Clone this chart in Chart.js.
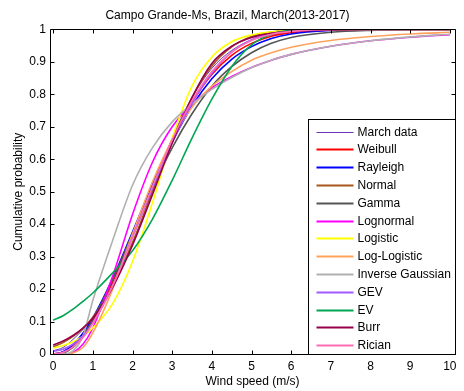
<!DOCTYPE html>
<html>
<head>
<meta charset="utf-8">
<script src="https://cdn.jsdelivr.net/npm/chart.js@4/dist/chart.umd.min.js"></script>
<style>
  html, body { margin: 0; padding: 0; background: #fff; }
</style>
</head>
<body>
<canvas id="myChart" width="464" height="391"></canvas>
<script>
// wind speed grid (m/s) shared by every curve
const windSpeed = [0, 0.25, 0.5, 0.75, 1, 1.5, 2, 2.5, 3, 3.5, 4, 4.5, 5, 5.5, 6, 7, 8, 9, 10];

const marchData       = [0.01, 0.02, 0.045, 0.075, 0.11, 0.22, 0.36, 0.51, 0.665, 0.79, 0.88, 0.935, 0.967, 0.983, 0.992, 0.998, 1, 1, 1];
const weibull         = [0, 0.006, 0.025, 0.057, 0.101, 0.222, 0.369, 0.521, 0.66, 0.775, 0.861, 0.92, 0.957, 0.979, 0.99, 0.998, 1, 1, 1];
const rayleigh        = [0, 0.007, 0.029, 0.064, 0.111, 0.233, 0.376, 0.521, 0.653, 0.764, 0.848, 0.908, 0.947, 0.972, 0.986, 0.997, 1, 1, 1];
const normal          = [0.022, 0.035, 0.054, 0.079, 0.113, 0.21, 0.343, 0.5, 0.657, 0.79, 0.887, 0.946, 0.978, 0.992, 0.998, 1, 1, 1, 1];
const gamma           = [0, 0.003, 0.02, 0.055, 0.105, 0.23, 0.37, 0.51, 0.635, 0.74, 0.825, 0.885, 0.928, 0.957, 0.975, 0.991, 0.997, 0.999, 1];
const lognormal       = [0, 0, 0.005, 0.03, 0.08, 0.24, 0.43, 0.59, 0.7, 0.77, 0.82, 0.855, 0.883, 0.905, 0.923, 0.948, 0.965, 0.976, 0.984];
const logistic        = [0.018, 0.026, 0.037, 0.055, 0.08, 0.155, 0.285, 0.465, 0.665, 0.825, 0.915, 0.962, 0.983, 0.993, 0.997, 1, 1, 1, 1];
const logLogistic     = [0, 0, 0.003, 0.02, 0.065, 0.2, 0.37, 0.53, 0.66, 0.76, 0.825, 0.87, 0.905, 0.928, 0.945, 0.966, 0.978, 0.986, 0.991];
const inverseGaussian = [0, 0, 0.01, 0.055, 0.165, 0.35, 0.52, 0.635, 0.715, 0.77, 0.815, 0.852, 0.882, 0.905, 0.923, 0.948, 0.965, 0.977, 0.985];
const gev             = [0.008, 0.015, 0.03, 0.055, 0.095, 0.21, 0.36, 0.51, 0.65, 0.772, 0.865, 0.93, 0.968, 0.987, 0.996, 1, 1, 1, 1];
const ev              = [0.104, 0.118, 0.138, 0.162, 0.188, 0.25, 0.318, 0.415, 0.535, 0.665, 0.785, 0.885, 0.952, 0.985, 0.997, 1, 1, 1, 1];
const burr            = [0.028, 0.04, 0.057, 0.08, 0.11, 0.205, 0.335, 0.49, 0.65, 0.79, 0.895, 0.948, 0.975, 0.988, 0.994, 0.998, 1, 1, 1];
const rician          = [0, 0.005, 0.022, 0.05, 0.095, 0.21, 0.36, 0.515, 0.66, 0.78, 0.87, 0.93, 0.966, 0.985, 0.994, 1, 1, 1, 1];

const seriesNames = ['March data', 'Weibull', 'Rayleigh', 'Normal', 'Gamma', 'Lognormal', 'Logistic',
  'Log-Logistic', 'Inverse Gaussian', 'GEV', 'EV', 'Burr', 'Rician'];
const seriesValues = [marchData, weibull, rayleigh, normal, gamma, lognormal, logistic,
  logLogistic, inverseGaussian, gev, ev, burr, rician];
const seriesColors = ['#6a35b5', '#ff0000', '#0000ff', '#a6561a', '#555555', '#ff00ff', '#ffff00',
  '#ffa35c', '#b0b0b0', '#a259ff', '#00a650', '#99004c', '#ff6eb4'];

const xTicks = [0, 1, 2, 3, 4, 5, 6, 7, 8, 9, 10];
const yTicks = [0, 0.1, 0.2, 0.3, 0.4, 0.5, 0.6, 0.7, 0.8, 0.9, 1];

const font = { family: "'Liberation Sans', Arial, sans-serif", size: 12, weight: 'normal' };

// matlab style box, inward ticks and the legend inside the axes
const boxAndLegend = {
  id: 'boxAndLegend',
  afterDatasetsDraw(chart) {
    const { ctx, chartArea: a, scales: { x, y } } = chart;
    const L = Math.round(a.left) + 0.5, R = Math.round(a.right) + 0.5;
    const T = Math.round(a.top) + 0.5, B = Math.round(a.bottom) + 0.5;
    ctx.save();
    ctx.strokeStyle = '#000';
    ctx.lineWidth = 1;
    ctx.beginPath();
    xTicks.forEach(v => {
      const px = Math.round(x.getPixelForValue(v)) + 0.5;
      ctx.moveTo(px, B); ctx.lineTo(px, B - 4);
      ctx.moveTo(px, T); ctx.lineTo(px, T + 4);
    });
    yTicks.forEach(v => {
      const py = Math.round(y.getPixelForValue(v)) + 0.5;
      ctx.moveTo(L, py); ctx.lineTo(L + 4, py);
      ctx.moveTo(R, py); ctx.lineTo(R - 4, py);
    });
    ctx.rect(L, T, R - L, B - T);
    ctx.stroke();

    // legend box
    const lx = R - 147, ly = B - 235;
    ctx.fillStyle = '#fff';
    ctx.fillRect(lx, ly, R - lx, B - ly);
    ctx.strokeRect(lx, ly, R - lx, B - ly);
    ctx.font = "12px 'Liberation Sans', Arial, sans-serif";
    ctx.textBaseline = 'middle';
    ctx.fillStyle = '#000';
    seriesNames.forEach((name, i) => {
      const ey = Math.round(ly + 12 + i * 17.8) + 0.5;
      ctx.beginPath();
      ctx.strokeStyle = seriesColors[i];
      ctx.lineWidth = i === 0 ? 1 : 2;
      ctx.moveTo(lx + 8, ey);
      ctx.lineTo(lx + 45, ey);
      ctx.stroke();
      ctx.fillText(name, lx + 49, ey);
    });
    ctx.restore();
  }
};

const ctx2 = document.getElementById('myChart').getContext('2d');
const myChart = new Chart(ctx2, {
  type: 'line',
  data: {
    datasets: seriesNames.map((name, i) => ({
      label: name,
      data: windSpeed.map((v, j) => ({ x: v, y: seriesValues[i][j] })),
      borderColor: seriesColors[i],
      backgroundColor: seriesColors[i],
      borderWidth: i === 0 ? 1 : 1.6,
      pointRadius: 0,
      fill: false,
      cubicInterpolationMode: 'monotone',
      order: seriesNames.length - i
    }))
  },
  options: {
    responsive: false,
    animation: false,
    layout: { padding: { left: 0, right: 9, top: 0, bottom: 0 } },
    plugins: {
      legend: { display: false },
      tooltip: { enabled: false },
      title: {
        display: true,
        text: 'Campo Grande-Ms, Brazil, March(2013-2017)',
        color: '#000',
        font: font,
        padding: { top: 8, bottom: 7 }
      }
    },
    scales: {
      x: {
        type: 'linear',
        min: -0.08,
        max: 10.13,
        afterBuildTicks: s => { s.ticks = xTicks.map(v => ({ value: v })); },
        afterFit: s => { s.height = 37; },
        grid: { display: false, drawTicks: false },
        border: { display: false },
        ticks: { color: '#000', font: font, padding: 5, maxRotation: 0, autoSkip: false, callback: v => String(v) },
        title: { display: true, text: 'Wind speed (m/s)', color: '#000', font: font, padding: { top: 0, bottom: 2 } }
      },
      y: {
        type: 'linear',
        min: 0,
        max: 1,
        afterBuildTicks: s => { s.ticks = yTicks.map(v => ({ value: v })); },
        afterFit: s => { s.width = 50; },
        grid: { display: false, drawTicks: false },
        border: { display: false },
        ticks: { color: '#000', font: font, padding: 4, autoSkip: false, callback: v => String(v) },
        title: { display: true, text: 'Cumulative probability', color: '#000', font: font, padding: { top: 11, bottom: 0 } }
      }
    }
  },
  plugins: [boxAndLegend]
});
</script>
</body>
</html>
